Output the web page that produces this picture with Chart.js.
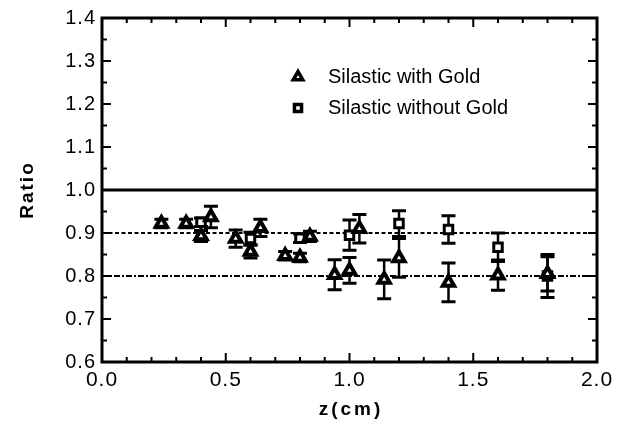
<!DOCTYPE html>
<html>
<head>
<meta charset="utf-8">
<script src="https://cdn.jsdelivr.net/npm/chart.js@4.4.1/dist/chart.umd.min.js"></script>
<style>
html,body{margin:0;padding:0;background:#fff;}
#wrap{width:618px;height:427px;}
</style>
</head>
<body>
<div id="wrap"><canvas id="c" width="618" height="427"></canvas></div>
<script>
// ---- data ----
const goldX   = [0.24, 0.34, 0.40, 0.44, 0.54, 0.60, 0.64, 0.74, 0.80, 0.84, 0.94, 1.00, 1.04, 1.14, 1.20, 1.40, 1.60, 1.80];
const goldY   = [0.922,0.922,0.893,0.937,0.887,0.857,0.912,0.847,0.843,0.892,0.803,0.813,0.910,0.792,0.842,0.785,0.802,0.805];
const goldErr = [0.010,0.010,0.013,0.025,0.020,0.015,0.020,0.010,0.010,0.012,0.035,0.030,0.033,0.045,0.045,0.045,0.035,0.040];

const noGoldX   = [0.40, 0.60, 0.80, 1.00, 1.20, 1.40, 1.60, 1.80];
const noGoldY   = [0.925,0.887,0.888,0.895,0.922,0.908,0.867,0.800];
const noGoldErr = [0.010,0.015,0.010,0.035,0.030,0.032,0.033,0.050];

const refLevels = [1.0, 0.9, 0.8];
const xTicks = [0.0, 0.5, 1.0, 1.5, 2.0];
const yTicks = [0.6, 0.7, 0.8, 0.9, 1.0, 1.1, 1.2, 1.3, 1.4];
const legendLabels = ['Silastic with Gold', 'Silastic without Gold'];
const xTitle = 'z(cm)';
const yTitle = 'Ratio';

const toPts = (xs, ys, es) => xs.map((x, i) => ({x: x, y: ys[i], e: es[i]}));

const FONT = "'Liberation Sans', Arial, Helvetica, sans-serif";

const spacing = {
  id: 'spacing',
  beforeDraw(chart) { chart.ctx.letterSpacing = '1px'; }
};

const errorBars = {
  id: 'errorBars',
  beforeDatasetsDraw(chart) {
    const ctx = chart.ctx, ys = chart.scales.y, xs = chart.scales.x;
    chart.data.datasets.forEach(ds => {
      if (!ds.isData) return;
      ctx.save();
      ctx.strokeStyle = '#000';
      ds.data.forEach(p => {
        const px = xs.getPixelForValue(p.x);
        const top = ys.getPixelForValue(p.y + p.e);
        const bot = ys.getPixelForValue(p.y - p.e);
        ctx.lineWidth = 2.5;
        ctx.beginPath(); ctx.moveTo(px, top); ctx.lineTo(px, bot); ctx.stroke();
        ctx.lineWidth = 3;
        ctx.beginPath();
        ctx.moveTo(px - 7, top); ctx.lineTo(px + 7, top);
        ctx.moveTo(px - 7, bot); ctx.lineTo(px + 7, bot);
        ctx.stroke();
      });
      ctx.restore();
    });
  }
};

const frameTicks = {
  id: 'frameTicks',
  afterDraw(chart) {
    const ctx = chart.ctx, a = chart.chartArea, xs = chart.scales.x, ys = chart.scales.y;
    ctx.save();
    ctx.strokeStyle = '#000';
    ctx.lineWidth = 3;
    ctx.strokeRect(a.left, a.top, a.right - a.left, a.bottom - a.top);
    ctx.lineWidth = 2;
    ctx.beginPath();
    for (let i = 1; i < 20; i++) {
      const px = xs.getPixelForValue(i / 10);
      const L = (i % 5 === 0) ? 9 : 5;
      ctx.moveTo(px, a.bottom); ctx.lineTo(px, a.bottom - L);
      ctx.moveTo(px, a.top); ctx.lineTo(px, a.top + L);
    }
    for (let i = 1; i < 16; i++) {
      const py = ys.getPixelForValue(0.6 + i * 0.05);
      const L = (i % 2 === 0) ? 9 : 5;
      ctx.moveTo(a.left, py); ctx.lineTo(a.left + L, py);
      ctx.moveTo(a.right, py); ctx.lineTo(a.right - L, py);
    }
    ctx.stroke();

    // axis titles
    ctx.fillStyle = '#000';
    ctx.font = 'bold 19px ' + FONT;
    ctx.textAlign = 'center';
    ctx.textBaseline = 'middle';
    ctx.letterSpacing = '3px';
    ctx.fillText(xTitle, (a.left + a.right) / 2 + 1.5, 410);
    ctx.save();
    ctx.translate(28, 191);
    ctx.rotate(-Math.PI / 2);
    ctx.letterSpacing = '2px';
    ctx.fillText(yTitle, 1, 0);
    ctx.restore();
    ctx.restore();
  }
};

const innerLegend = {
  id: 'innerLegend',
  afterDraw(chart) {
    const ctx = chart.ctx;
    const rows = [
      {style: 'triangle', y: 77, label: legendLabels[0], r: 5.5},
      {style: 'rect', y: 108, label: legendLabels[1], r: 5}
    ];
    ctx.save();
    ctx.letterSpacing = '0px';
    rows.forEach(r => {
      ctx.fillStyle = '#fff';
      ctx.strokeStyle = '#000';
      ctx.lineWidth = 3.5;
      Chart.helpers.drawPoint(ctx, {pointStyle: r.style, radius: r.r, borderWidth: 3.5}, 298, r.y);
      ctx.fillStyle = '#000';
      ctx.font = '20px ' + FONT;
      ctx.textBaseline = 'middle';
      ctx.textAlign = 'left';
      ctx.fillText(r.label, 328, r.y);
    });
    ctx.restore();
  }
};

const lineStyles = [
  {dash: [], width: 3},
  {dash: [4, 2.5], width: 2.2},
  {dash: [6, 2, 2, 2], width: 2.2}
];

const datasets = refLevels.map((lv, i) => ({
  type: 'line',
  data: [{x: 0, y: lv}, {x: 2, y: lv}],
  borderColor: '#000',
  borderWidth: lineStyles[i].width,
  borderDash: lineStyles[i].dash,
  pointRadius: 0,
  order: 5
}));
datasets.push({
  label: legendLabels[0],
  isData: true,
  data: toPts(goldX, goldY, goldErr),
  pointStyle: 'triangle',
  pointRadius: 6.5,
  pointBackgroundColor: '#fff',
  pointBorderColor: '#000',
  pointBorderWidth: 4,
  showLine: false,
  order: 1
});
datasets.push({
  label: legendLabels[1],
  isData: true,
  data: toPts(noGoldX, noGoldY, noGoldErr),
  pointStyle: 'rect',
  pointRadius: 6,
  pointBackgroundColor: '#fff',
  pointBorderColor: '#000',
  pointBorderWidth: 3,
  showLine: false,
  order: 2
});

new Chart(document.getElementById('c'), {
  type: 'scatter',
  data: {datasets},
  options: {
    responsive: false,
    animation: false,
    devicePixelRatio: 1,
    layout: {padding: {top: 17, right: 21, left: 0, bottom: 0}},
    plugins: {legend: {display: false}, tooltip: {enabled: false}},
    scales: {
      x: {
        type: 'linear', min: 0, max: 2,
        afterBuildTicks: s => { s.ticks = xTicks.map(v => ({value: v})); },
        afterFit: s => { s.height = 65; },
        grid: {display: false, drawTicks: false},
        border: {display: false},
        ticks: {
          color: '#000', padding: 6, maxRotation: 0,
          font: {family: FONT, size: 21},
          callback: v => v.toFixed(1)
        }
      },
      y: {
        type: 'linear', min: 0.6, max: 1.4,
        afterBuildTicks: s => { s.ticks = yTicks.map(v => ({value: v})); },
        afterFit: s => { s.width = 102; },
        grid: {display: false, drawTicks: false},
        border: {display: false},
        ticks: {
          color: '#000', padding: 6,
          font: {family: FONT, size: 20},
          callback: v => v.toFixed(1)
        }
      }
    }
  },
  plugins: [spacing, errorBars, frameTicks, innerLegend]
});
</script>
</body>
</html>
